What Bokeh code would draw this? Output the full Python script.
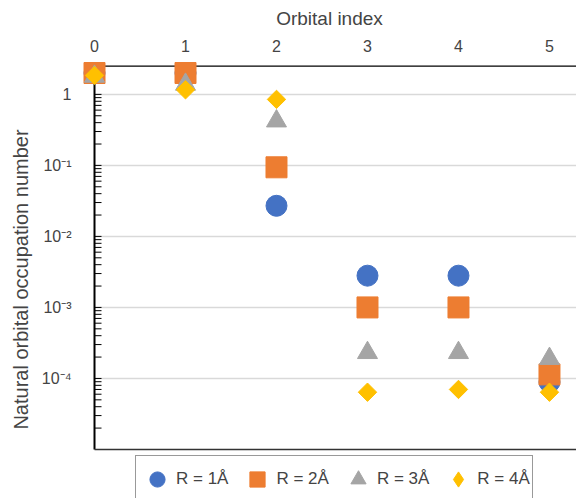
from math import pi
from bokeh.plotting import figure
from bokeh.models import Range1d, FixedTicker, Legend, LegendItem
from bokeh.embed import file_html
from bokeh.resources import INLINE

# ---- data ----
orbital_index = [0, 1, 2, 3, 4, 5]
occupation_R1 = [2.0, 2.0, 0.027, 2.8e-3, 2.8e-3, 8.9e-5]
occupation_R2 = [2.0, 2.0, 0.094, 1.0e-3, 1.0e-3, 1.14e-4]
occupation_R3 = [1.79, 1.38, 0.42, 2.3e-4, 2.3e-4, 1.9e-4]
occupation_R4 = [1.85, 1.16, 0.85, 6.4e-5, 7.0e-5, 6.4e-5]
series_labels = ["R = 1Å", "R = 2Å", "R = 3Å", "R = 4Å"]
x_tick_labels = ["0", "1", "2", "3", "4", "5"]
y_major_ticks = [1e-4, 1e-3, 1e-2, 1e-1, 1.0]
y_tick_labels = ["10⁻⁴", "10⁻³", "10⁻²", "10⁻¹", "1"]

# axis limits (the drawn axes box)
Y_AXIS_MIN, Y_AXIS_MAX = 1e-5, 2.5
X_AXIS_MIN = 0
FONT = "Liberation Sans"

y_minor_ticks = [m * 10.0 ** e for e in range(-5, 0) for m in range(2, 10)]

p = figure(width=576, height=498,
           x_range=Range1d(-0.132, 5.297), y_range=Range1d(2.04e-6, 3.0),
           y_axis_type="log", x_axis_location="above",
           output_backend="svg", toolbar_location=None,
           min_border_left=82, min_border_right=0,
           min_border_top=60, min_border_bottom=0)
p.outline_line_color = None
p.xgrid.visible = False
p.ygrid.visible = False

# grid lines (from the left axis to the right)
p.ray(x=[X_AXIS_MIN] * len(y_major_ticks), y=y_major_ticks, length=0, angle=0,
      line_color="#d9d9d9", line_width=1.5)

# axis lines drawn at the data origin
p.segment(x0=[X_AXIS_MIN], y0=[Y_AXIS_MIN], x1=[X_AXIS_MIN], y1=[Y_AXIS_MAX],
          line_color="black", line_width=2)
p.ray(x=[X_AXIS_MIN], y=[Y_AXIS_MAX], length=0, angle=0, line_color="black", line_width=1.3)
p.ray(x=[X_AXIS_MIN], y=[Y_AXIS_MIN], length=0, angle=0, line_color="#333333", line_width=1.5)
# inward ticks on the left axis
p.ray(x=[X_AXIS_MIN] * (len(y_minor_ticks) + len(y_major_ticks)),
      y=y_minor_ticks + y_major_ticks, length=7, length_units="screen", angle=0,
      line_color="black", line_width=1)

# data
r1 = p.scatter(orbital_index, occupation_R1, marker="circle", size=21,
               fill_color="#4472C4", line_color="#4472C4")
r2 = p.scatter(orbital_index, occupation_R2, marker="square", size=21,
               fill_color="#ED7D31", line_color="#ED7D31")
r3 = p.scatter(orbital_index, occupation_R3, marker="triangle", size=20,
               fill_color="#A5A5A5", line_color="#A5A5A5")
# diamond key for the legend (fully covered by the rotated squares below)
r4_key = p.scatter(orbital_index, occupation_R4, marker="diamond", size=15,
                   fill_color="#FFC000", line_color="#FFC000")
r4 = p.scatter(orbital_index, occupation_R4, marker="square", angle=pi / 4, size=13,
               fill_color="#FFC000", line_color="#FFC000")

# axes: only labels, lines handled above
xa = p.xaxis[0]
xa.ticker = FixedTicker(ticks=orbital_index)
xa.major_label_overrides = {i: t for i, t in zip(orbital_index, x_tick_labels)}
xa.axis_line_color = None
xa.major_tick_line_color = None
xa.minor_tick_line_color = None
xa.major_label_standoff = 3
xa.major_label_text_font = FONT
xa.major_label_text_font_size = "16px"
xa.axis_label = "Orbital index"
xa.axis_label_text_font = FONT
xa.axis_label_text_font_size = "19px"
xa.axis_label_text_font_style = "normal"
xa.axis_label_standoff = 8

ya = p.yaxis[0]
ya.ticker = FixedTicker(ticks=y_major_ticks)
ya.major_label_overrides = {v: t for v, t in zip(y_major_ticks, y_tick_labels)}
ya.axis_line_color = None
ya.major_tick_line_color = None
ya.minor_tick_line_color = None
ya.major_label_standoff = 5
ya.major_label_text_font = FONT
ya.major_label_text_font_size = "16px"
ya.axis_label = "Natural orbital occupation number"
ya.axis_label_text_font = FONT
ya.axis_label_text_font_size = "20px"
ya.axis_label_text_font_style = "normal"
ya.axis_label_standoff = 7

legend = Legend(
    items=[LegendItem(label=series_labels[0], renderers=[r1]),
           LegendItem(label=series_labels[1], renderers=[r2]),
           LegendItem(label=series_labels[2], renderers=[r3]),
           LegendItem(label=series_labels[3], renderers=[r4_key])],
    location=(53, -5), orientation="horizontal",
    glyph_width=38, glyph_height=42, label_standoff=0, spacing=10,
    padding=2, margin=0, border_line_color="#333333", border_line_width=1,
    label_text_font=FONT, label_text_font_size="17px",
)
p.add_layout(legend)

open("out.html", "w").write(file_html(p, INLINE))
